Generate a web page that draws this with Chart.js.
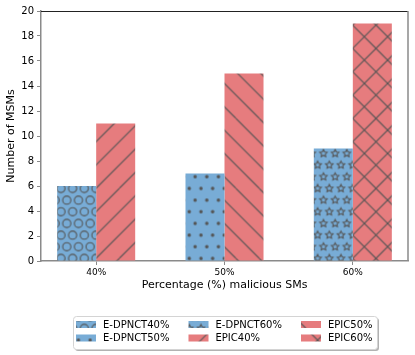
<!DOCTYPE html>
<html>
<head>
<meta charset="utf-8">
<script src="https://cdn.jsdelivr.net/npm/chart.js@4"></script>
<style>
  html, body { margin: 0; padding: 0; background: #fff; }
</style>
</head>
<body>
<canvas id="chart" width="415" height="355"></canvas>
<script>
/* Bar chart: number of MSMs vs percentage of malicious SMs */

// Data
const categories = ['40%', '50%', '60%'];
const yTicks = [0, 2, 4, 6, 8, 10, 12, 14, 16, 18, 20];
const edpnctValues = [6, 7, 9];
const epicValues = [11, 15, 19];
const edpnctLabels = ['E-DPNCT40%', 'E-DPNCT50%', 'E-DPNCT60%'];
const epicLabels = ['EPIC40%', 'EPIC50%', 'EPIC60%'];
const edpnctHatches = ['O', '.', '*'];
const epicHatches = ['/', '\\', 'x'];

const FONT = 'DejaVu Sans';
const BLUE = '#78acd6';
const RED = '#e67c7e';
const HATCH = '#555555';

const canvas = document.getElementById('chart');
const ctx = canvas.getContext('2d');

// Hatch patterns (same idea as matplotlib: 70px tile, shapes on a 6x6 staggered grid)
function makeHatch(base, kind) {
    const S = 70, step = S / 6, s = S / 3;
    const tile = document.createElement('canvas');
    tile.width = S; tile.height = S;
    const g = tile.getContext('2d');
    g.fillStyle = base;
    g.fillRect(0, 0, S, S);
    g.strokeStyle = HATCH;
    g.fillStyle = HATCH;
    g.lineWidth = 1.1;

    if (kind === 'O' || kind === '.' || kind === '*') {
        for (let r = -1; r <= 6; r++) {
            const y = r * step;
            const off = (((r % 2) + 2) % 2) ? step / 2 : 0;
            for (let k = -1; k <= 6; k++) {
                const x = k * step + off;
                g.beginPath();
                if (kind === 'O') {
                    g.arc(x, y, 0.35 * step, 0, Math.PI * 2);
                    g.stroke();
                } else if (kind === '.') {
                    g.arc(x, y, 0.1 * step, 0, Math.PI * 2);
                    g.fill();
                    g.stroke();
                } else {
                    const R = step / 3;
                    for (let i = 0; i < 10; i++) {
                        const a = -Math.PI / 2 + i * Math.PI / 5;
                        const rr = (i % 2) ? R * 0.5 : R;
                        const px = x + rr * Math.cos(a), py = y + rr * Math.sin(a);
                        if (i === 0) g.moveTo(px, py); else g.lineTo(px, py);
                    }
                    g.closePath();
                    g.stroke();
                }
            }
        }
    } else {
        g.beginPath();
        if (kind === '/' || kind === 'x') {
            for (let i = 0; i <= 6; i++) {
                const c = i * s;
                g.moveTo(c, 0);
                g.lineTo(c - S, S);
            }
        }
        if (kind === '\\' || kind === 'x') {
            for (let i = -3; i <= 3; i++) {
                const c = i * s;
                g.moveTo(c, 0);
                g.lineTo(c + S, S);
            }
        }
        g.stroke();
    }

    const pattern = ctx.createPattern(tile, 'repeat');
    pattern.setTransform(new DOMMatrix([1, 0, 0, 1, 2.6, 48.4]));
    return pattern;
}

const edpnctFills = edpnctHatches.map(h => makeHatch(BLUE, h));
const epicFills = epicHatches.map(h => makeHatch(RED, h));

// Legend items in matplotlib order (filled column by column, 2 rows)
const legendItems = [
    ...edpnctLabels.map((l, i) => ({ label: l, fill: edpnctFills[i] })),
    ...epicLabels.map((l, i) => ({ label: l, fill: epicFills[i] })),
];

// Top and right spines
const spines = {
    id: 'spines',
    afterDraw(chart) {
        const { top, right, bottom, left } = chart.chartArea;
        const c = chart.ctx;
        c.save();
        c.strokeStyle = '#222';
        c.lineWidth = 1;
        c.beginPath();
        c.moveTo(left, top + 0.5);
        c.lineTo(right, top + 0.5);
        c.stroke();
        c.strokeStyle = '#8a8a8a';
        c.lineWidth = 1.5;
        c.beginPath();
        c.moveTo(right, top);
        c.lineTo(right, bottom);
        c.stroke();
        c.restore();
    }
};

// Legend box below the axis title
const mplLegend = {
    id: 'mplLegend',
    afterDraw(chart) {
        const c = chart.ctx;
        const box = { x: 73, y: 316, w: 304, h: 33 };
        const colX = [76, 188.5, 301];
        const rowY = [324.5, 338];
        c.save();
        c.fillStyle = 'rgba(0,0,0,0.3)';
        c.beginPath();
        c.roundRect(box.x + 2, box.y + 2, box.w, box.h, 3);
        c.fill();
        c.fillStyle = '#fff';
        c.strokeStyle = '#d4d4d4';
        c.lineWidth = 1;
        c.beginPath();
        c.roundRect(box.x + 0.5, box.y + 0.5, box.w, box.h, 3);
        c.fill();
        c.stroke();

        c.font = '10px "' + FONT + '"';
        c.textBaseline = 'middle';
        c.textAlign = 'left';
        legendItems.forEach((item, k) => {
            const col = Math.floor(k / 2), row = k % 2;
            const x = colX[col], y = rowY[row];
            c.fillStyle = item.fill;
            c.fillRect(x, y - 3.5, 20, 7);
            c.fillStyle = '#000';
            c.fillText(item.label, x + 27, y + 0.5);
        });
        c.restore();
    }
};

const config = {
    type: 'bar',
    data: {
        datasets: [
            {
                label: 'E-DPNCT',
                data: edpnctValues.map((v, i) => ({ x: i, y: v })),
                backgroundColor: edpnctFills,
                borderWidth: 0,
            },
            {
                label: 'EPIC',
                data: epicValues.map((v, i) => ({ x: i, y: v })),
                backgroundColor: epicFills,
                borderWidth: 0,
            },
        ],
    },
    options: {
        responsive: false,
        animation: false,
        categoryPercentage: 0.608,
        barPercentage: 1,
        layout: { padding: { top: 11, right: 7, bottom: 59, left: 0 } },
        plugins: {
            legend: { display: false },
            tooltip: { enabled: false },
        },
        scales: {
            x: {
                type: 'linear',
                min: -0.43,
                max: 2.43,
                offset: false,
                z: 1,
                afterFit: s => { s.height = 35; },
                afterBuildTicks: s => { s.ticks = categories.map((_, i) => ({ value: i })); },
                ticks: {
                    callback: v => categories[v],
                    font: { family: FONT, size: 9 },
                    color: '#000',
                    padding: 2,
                    maxRotation: 0,
                },
                grid: { offset: false, drawOnChartArea: false, tickLength: 4, color: '#8a8a8a' },
                border: { color: '#8a8a8a', width: 1.5 },
                title: {
                    display: true,
                    text: 'Percentage (%) malicious SMs',
                    font: { family: FONT, size: 11 },
                    color: '#000',
                    padding: { top: 2, bottom: 4 },
                },
            },
            y: {
                min: 0,
                max: 20,
                z: 1,
                afterFit: s => { s.width = 41; },
                afterBuildTicks: s => { s.ticks = yTicks.map(v => ({ value: v })); },
                ticks: {
                    font: { family: FONT, size: 10 },
                    color: '#000',
                    padding: 3,
                },
                grid: { drawOnChartArea: false, tickLength: 4, color: '#8a8a8a' },
                border: { color: '#8a8a8a', width: 1.5 },
                title: {
                    display: true,
                    text: 'Number of MSMs',
                    font: { family: FONT, size: 11 },
                    color: '#000',
                    padding: { top: 5, bottom: 0 },
                },
            },
        },
    },
    plugins: [spines, mplLegend],
};

const chart = new Chart(ctx, config);
</script>
</body>
</html>
